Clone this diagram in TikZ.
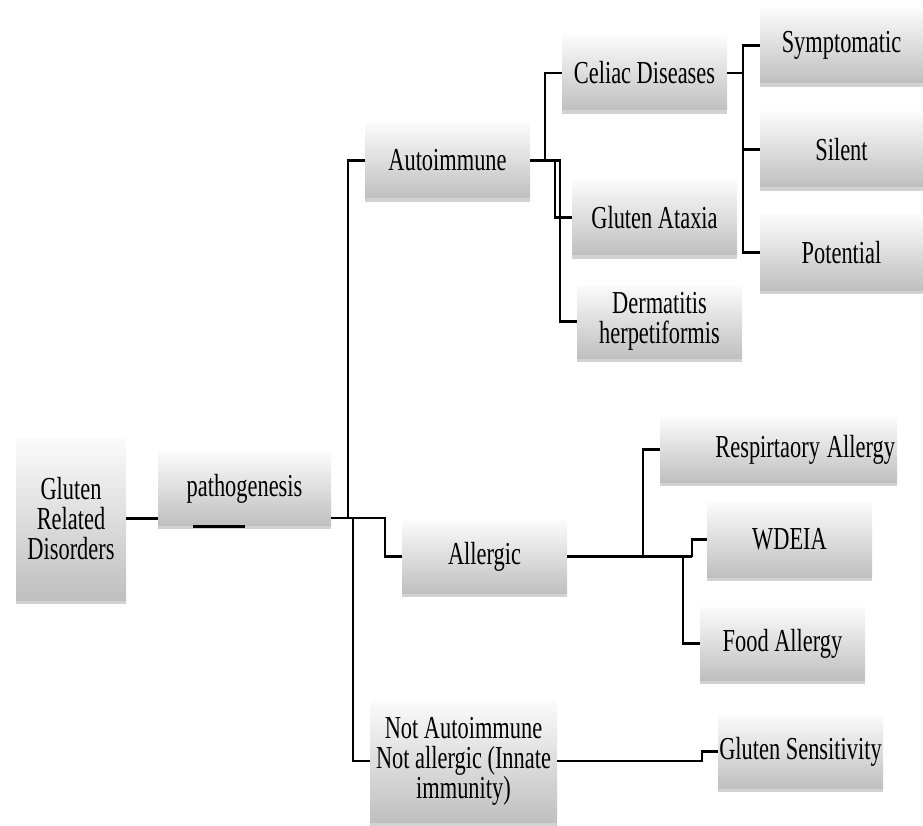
\documentclass[tikz,border=0pt]{standalone}
\usepackage{fontspec}
\setmainfont{Liberation Serif}[FakeStretch=0.7]
\usetikzlibrary{shadows,calc}
\begin{document}
\begin{tikzpicture}[x=1pt,y=-1pt,
  box/.style={top color=white!97!gray, bottom color=gray!50, draw=none, inner sep=0pt,
    align=center, font=\fontsize{32}{30}\selectfont,
    drop shadow={shadow xshift=0pt, shadow yshift=-4pt, fill=gray!70, opacity=0.5}},
  conn/.style={line width=2.2pt, black}]
\useasboundingbox (0,0) rectangle (923,826);

% nodes
\node[box, minimum width=110pt, minimum height=163pt] (grd) at (71,518.5) {Gluten\\Related\\Disorders};
\node[box, minimum width=173pt, minimum height=73pt] (path) at (244.5,488.5) {pathogenesis};
\node[box, minimum width=165pt, minimum height=75pt] (auto) at (447.5,160.5) {Autoimmune};
\node[box, minimum width=165pt, minimum height=74pt] (celiac) at (644.5,73) {Celiac Diseases};
\node[box, minimum width=165pt, minimum height=75pt] (ataxia) at (654.5,217.5) {Gluten Ataxia};
\node[box, minimum width=165pt, minimum height=73pt] (derm) at (659.5,321.5) {Dermatitis\\herpetiformis};
\node[box, minimum width=163pt, minimum height=75pt] (symp) at (841.5,45.5) {Symptomatic};
\node[box, minimum width=163pt, minimum height=75pt] (silent) at (841.5,149.5) {Silent};
\node[box, minimum width=163pt, minimum height=75pt] (potential) at (841.5,252.5) {Potential};
\node[box, minimum width=165pt, minimum height=73pt] (allergic) at (484.5,556.5) {Allergic};
\node[box, minimum width=237pt, minimum height=65pt, text width=233pt, align=right] (resp) at (778.5,449.5) {Respirtaory\hspace{0.22em}Allergy};
\node[box, minimum width=165pt, minimum height=75pt] (wdeia) at (789.5,539.5) {WDEIA};
\node[box, minimum width=165pt, minimum height=73pt] (food) at (782.5,643.5) {Food Allergy};
\node[box, minimum width=187pt, minimum height=122pt] (notauto) at (463.5,761) {Not Autoimmune\\Not allergic (Innate\\immunity)};
\node[box, minimum width=165pt, minimum height=73pt] (gsens) at (800.5,751.5) {Gluten Sensitivity};

% connectors
\draw[line width=3.8pt] (grd.east) -- (grd.east -| path.west);
\draw[line width=2.8pt] ($(path.south)+(-52,1)$) -- ($(path.south)+(0,1)$);

\coordinate (j1) at (348,518);
\coordinate (j2) at (385,518);
\coordinate (j3) at (353,518);
\draw[conn] (path.east |- j1) -- (j1) |- (auto.west);
\draw[conn] (j1) -- (j2) |- (allergic.west);
\draw[conn] (j3) |- (notauto.west);

\coordinate (a1) at (545,160.5);
\coordinate (a2) at (555,160.5);
\coordinate (a3) at (560,160.5);
\draw[conn] (auto.east) -- (a1) |- (celiac.west);
\draw[conn] (auto.east) -- (a2) |- (ataxia.west);
\draw[conn] (auto.east) -- (a3) |- (derm.west);

\coordinate (c1) at (743,73);
\draw[conn] (celiac.east) -- (c1) |- (symp.west);
\draw[conn] (c1) |- (silent.west);
\draw[conn] (c1) |- (potential.west);

\coordinate (b1) at (643,556.5);
\coordinate (b2) at (683,556.5);
\coordinate (b3) at (692,556.5);
\draw[line width=3pt] (allergic.east) -- (b3);
\draw[conn] (b1) |- (resp.west);
\draw[conn] (b2) |- (food.west);
\draw[conn] (b3) |- (wdeia.west);

\coordinate (n1) at (702,761);
\draw[conn] (notauto.east) -- (n1) |- (gsens.west);
\end{tikzpicture}
\end{document}
